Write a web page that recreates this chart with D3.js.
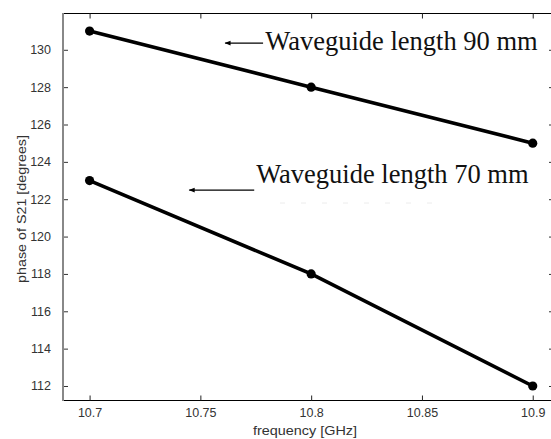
<!DOCTYPE html>
<html>
<head>
<meta charset="utf-8">
<script src="https://cdn.jsdelivr.net/npm/d3@7"></script>
<style>
  html, body { margin: 0; padding: 0; background: #fff; }
  svg { display: block; }
  .tick text { font-family: "Liberation Sans", Arial, sans-serif; font-size: 12.5px; fill: #333; }
</style>
</head>
<body>
<svg id="chart"></svg>
<script>
(function (d3) {
  'use strict'
  // data
  const freqs = [10.7, 10.8, 10.9]
  const phase90 = [131, 128, 125]
  const phase70 = [123, 118, 112]
  const xTicks = [10.7, 10.75, 10.8, 10.85, 10.9]
  const yTicks = [112, 114, 116, 118, 120, 122, 124, 126, 128, 130]
  const notes = [
    { text: 'Waveguide length 90 mm', x: 10.7793, y: 130, arrowFrom: 10.7783, arrowTo: 10.7612, arrowY: 130.36 },
    { text: 'Waveguide length 70 mm', x: 10.7752, y: 122.88, arrowFrom: 10.7743, arrowTo: 10.745, arrowY: 122.49 }
  ]

  const W = 551
  const H = 439
  const L = 63, R = 554, T = 13, B = 400

  const svg = d3.select('#chart').attr('width', W).attr('height', H)

  const x = d3.scaleLinear().domain([10.688, 10.9096]).range([L, R])
  const y = d3.scaleLinear().domain([111.25, 131.97]).range([B, T])

  // box + ticks (matlab style, ticks inside)
  svg.append('line').attr('x1', L).attr('x2', R).attr('y1', T + 0.5).attr('y2', T + 0.5).attr('stroke', '#000')
  svg.append('line').attr('x1', L).attr('x2', R).attr('y1', B + 0.5).attr('y2', B + 0.5).attr('stroke', '#000')

  const xAxis = svg.append('g').attr('transform', `translate(0,${B + 0.5})`)
    .call(d3.axisBottom(x).tickValues(xTicks).tickSizeInner(-5).tickSizeOuter(0).tickPadding(8).tickFormat(d3.format('')))
  xAxis.select('.domain').remove()
  xAxis.selectAll('.tick line').attr('stroke', '#222')

  svg.append('g').attr('transform', `translate(0,${T + 0.5})`)
    .call(d3.axisTop(x).tickValues(xTicks).tickSizeInner(-5).tickSizeOuter(0).tickFormat(''))
    .call(g => g.select('.domain').remove())
    .selectAll('.tick line').attr('stroke', '#222')

  const yAxis = svg.append('g').attr('transform', `translate(${L},0)`)
    .call(d3.axisLeft(y).tickValues(yTicks).tickSizeInner(-5).tickSizeOuter(0).tickPadding(12))
  yAxis.select('.domain').remove()
  yAxis.selectAll('.tick line').attr('stroke', '#333')

  svg.append('g').attr('transform', `translate(${R},0)`)
    .call(d3.axisRight(y).tickValues(yTicks).tickSizeInner(-5).tickSizeOuter(0).tickFormat(''))
    .call(g => g.select('.domain').remove())
    .selectAll('.tick line').attr('stroke', '#333')

  // left axis line is grey and thicker
  svg.append('line').attr('x1', L).attr('x2', L).attr('y1', T).attr('y2', B + 1)
    .attr('stroke', '#888').attr('stroke-width', 2)

  // axis labels
  svg.append('text')
    .attr('x', 305).attr('y', 435)
    .attr('text-anchor', 'middle')
    .attr('font-family', '"Liberation Sans", Arial, sans-serif').attr('font-size', 13)
    .attr('fill', '#333')
    .attr('textLength', 104).attr('lengthAdjust', 'spacingAndGlyphs')
    .text('frequency [GHz]')

  svg.append('text')
    .attr('transform', 'translate(26,209) rotate(-90)')
    .attr('text-anchor', 'middle')
    .attr('font-family', '"Liberation Sans", Arial, sans-serif').attr('font-size', 13.5)
    .attr('fill', '#333')
    .attr('textLength', 148).attr('lengthAdjust', 'spacingAndGlyphs')
    .text('phase of S21 [degrees]')

  // series
  const line = d3.line().x(d => x(d[0])).y(d => y(d[1]))
  ;[phase90, phase70].forEach(vals => {
    const pts = freqs.map((f, i) => [f, vals[i]])
    svg.append('path').datum(pts).attr('d', line)
      .attr('fill', 'none').attr('stroke', '#000').attr('stroke-width', 3.6)
    svg.selectAll(null).data(pts).enter().append('circle')
      .attr('cx', d => x(d[0])).attr('cy', d => y(d[1])).attr('r', 4.6).attr('fill', '#000')
  })

  // annotations
  svg.append('defs').append('marker')
    .attr('id', 'arr').attr('viewBox', '0 0 10 10').attr('refX', 9).attr('refY', 5)
    .attr('markerWidth', 8).attr('markerHeight', 6).attr('markerUnits', 'userSpaceOnUse').attr('orient', 'auto')
    .append('path').attr('d', 'M0,1 L10,5 L0,9 Z').attr('fill', '#000')

  notes.forEach(n => {
    svg.append('line')
      .attr('x1', x(n.arrowFrom)).attr('x2', x(n.arrowTo))
      .attr('y1', y(n.arrowY)).attr('y2', y(n.arrowY))
      .attr('stroke', '#000').attr('stroke-width', 1.2)
      .attr('marker-end', 'url(#arr)')
    svg.append('text')
      .attr('x', x(n.x)).attr('y', y(n.y))
      .attr('font-family', '"Liberation Serif", "Times New Roman", serif').attr('font-size', 26.5)
      .attr('fill', '#111')
      .text(n.text)
  })

  // faint residue under the second label
  svg.append('line')
    .attr('x1', 280).attr('x2', 448).attr('y1', 203).attr('y2', 203)
    .attr('stroke', '#ececec').attr('stroke-width', 1).attr('stroke-dasharray', '5,16')

}(d3))
</script>
</body>
</html>
